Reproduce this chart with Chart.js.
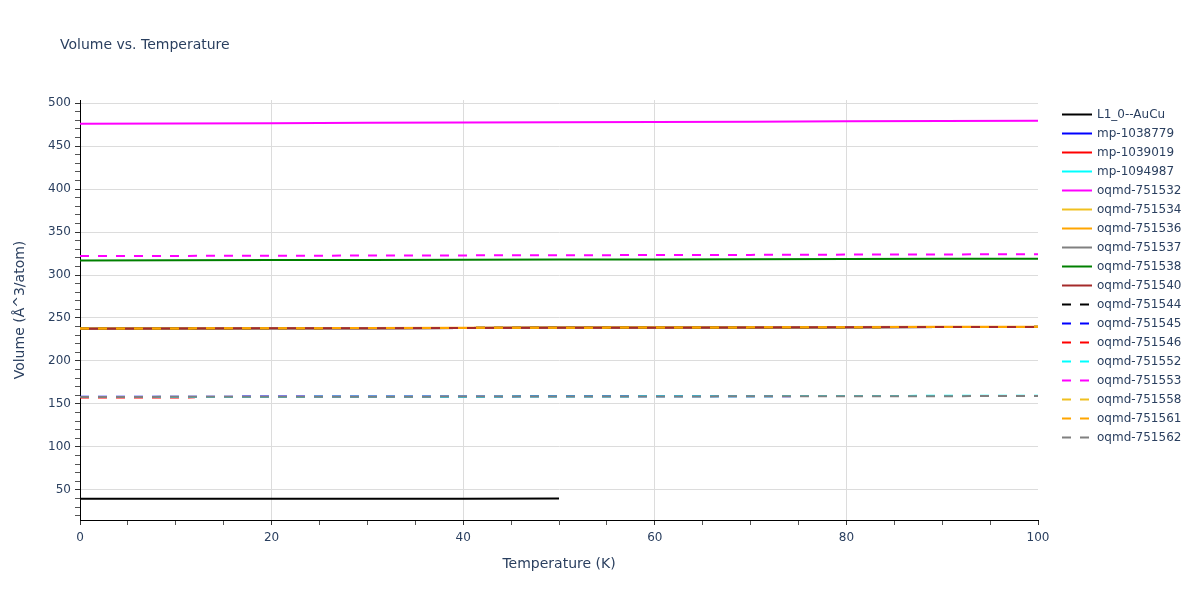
<!DOCTYPE html>
<html>
<head>
<meta charset="utf-8">
<script src="https://cdn.jsdelivr.net/npm/chart.js@4.4.1/dist/chart.umd.min.js"></script>
<style>
  html, body { margin: 0; padding: 0; background: #ffffff; }
  #wrap { width: 1200px; height: 600px; position: relative; }
</style>
</head>
<body>
<div id="wrap"><canvas id="c" width="1200" height="600"></canvas></div>
<script>
// ---- Data ----
const chartTitle = 'Volume vs. Temperature';
const xAxisTitle = 'Temperature (K)';
const yAxisTitle = 'Volume (Å^3/atom)';

const temps100 = [0, 10, 20, 30, 40, 50, 60, 70, 80, 90, 100];
const temps50 = [0, 10, 20, 30, 40, 50];
const temps12 = [0, 4, 8, 12];

const seriesNames = [
  'L1_0--AuCu', 'mp-1038779', 'mp-1039019', 'mp-1094987',
  'oqmd-751532', 'oqmd-751534', 'oqmd-751536', 'oqmd-751537',
  'oqmd-751538', 'oqmd-751540', 'oqmd-751544', 'oqmd-751545',
  'oqmd-751546', 'oqmd-751552', 'oqmd-751553', 'oqmd-751558',
  'oqmd-751561', 'oqmd-751562'
];
const seriesColors = [
  '#000000', '#0000ff', '#ff0000', '#00ffff',
  '#ff00ff', '#f0c020', '#ffa500', '#808080',
  '#008000', '#a52a2a', '#000000', '#0000ff',
  '#ff0000', '#00ffff', '#ff00ff', '#f0c020',
  '#ffa500', '#808080'
];
const seriesDashed = [
  false, false, false, false,
  false, false, false, false,
  false, false, true, true,
  true, true, true, true,
  true, true
];

const vL10AuCu  = [39.8, 39.8, 39.9, 39.9, 39.9, 40.0];
const vMp1038779 = [237.6, 237.8, 238.0, 238.2, 238.4, 238.6, 238.8, 239.0, 239.2, 239.4, 239.6];
const vMp1039019 = [237.6, 237.8, 238.0, 238.2, 238.4, 238.6, 238.8, 239.0, 239.2, 239.4, 239.6];
const vMp1094987 = [237.6, 237.8, 238.0, 238.2, 238.4, 238.6, 238.8, 239.0, 239.2, 239.4, 239.6];
const v751532 = [476.0, 476.3, 476.6, 476.9, 477.2, 477.6, 477.9, 478.3, 478.7, 479.1, 479.5];
const v751534 = [237.6, 237.8, 238.0, 238.2, 238.4, 238.6, 238.8, 239.0, 239.2, 239.4, 239.6];
const v751536 = [237.9, 238.1, 238.3, 238.5, 238.7, 238.9, 239.1, 239.3, 239.5, 239.7, 239.9];
const v751537 = [237.6, 237.8, 238.0, 238.2, 238.4, 238.6, 238.8, 239.0, 239.2, 239.4, 239.6];
const v751538 = [317.0, 317.1, 317.3, 317.5, 317.7, 317.9, 318.1, 318.3, 318.5, 318.8, 319.0];
const v751540 = [237.6, 237.8, 238.0, 238.2, 238.4, 238.6, 238.8, 239.0, 239.2, 239.4, 239.6];
const v751544 = [237.7, 237.9, 238.1, 238.3, 238.5, 238.7, 238.9, 239.1, 239.3, 239.5, 239.7];
const v751545 = [158.4, 158.5, 158.6, 158.7, 158.8, 158.9, 159.0, 159.1, 159.2, 159.3, 159.4];
const v751546 = [157.5, 157.6, 157.6, 157.7];
const v751552 = [158.0, 158.1, 158.2, 158.4, 158.5, 158.7, 158.9, 159.1, 159.3, 159.5, 159.7];
const v751553 = [322.0, 322.2, 322.4, 322.6, 322.8, 323.0, 323.2, 323.4, 323.7, 323.9, 324.2];
const v751558 = [237.7, 237.9, 238.1, 238.3, 238.5, 238.7, 238.9, 239.1, 239.3, 239.5, 239.7];
const v751561 = [237.7, 237.9, 238.1, 238.3, 238.5, 238.7, 238.9, 239.1, 239.3, 239.5, 239.7];
const v751562 = [158.2, 158.3, 158.4, 158.5, 158.6, 158.7, 158.8, 158.9, 159.0, 159.1, 159.3];

const seriesX = [
  temps50, temps100, temps100, temps100,
  temps100, temps100, temps100, temps100,
  temps100, temps100, temps100, temps100,
  temps12, temps100, temps100, temps100,
  temps100, temps100
];
const seriesY = [
  vL10AuCu, vMp1038779, vMp1039019, vMp1094987,
  v751532, v751534, v751536, v751537,
  v751538, v751540, v751544, v751545,
  v751546, v751552, v751553, v751558,
  v751561, v751562
];

const yTicksMajor = [50, 100, 150, 200, 250, 300, 350, 400, 450, 500];
const xTicksMajor = [0, 20, 40, 60, 80, 100];

// ---- Styling ----
const FONT = '"DejaVu Sans", Verdana, sans-serif';
const TXT = '#2a3f5f';
const GRID = '#dcdcdc';

const N = seriesNames.length;
const datasets = seriesNames.map((name, i) => ({
  label: name,
  data: seriesX[i].map((x, k) => ({ x: x, y: seriesY[i][k] })),
  borderColor: seriesColors[i],
  backgroundColor: seriesColors[i],
  borderWidth: 2,
  borderDash: seriesDashed[i] ? [9, 9] : [],
  pointRadius: 0,
  pointHoverRadius: 0,
  tension: 0,
  fill: false,
  order: N - i
}));

const overlay = {
  id: 'overlay',
  afterDraw(chart) {
    const ctx = chart.ctx;
    ctx.save();
    // title
    ctx.fillStyle = TXT;
    ctx.font = '14px ' + FONT;
    ctx.textBaseline = 'middle';
    ctx.textAlign = 'left';
    ctx.fillText(chartTitle, 60, 45);
    // legend
    ctx.font = '12px ' + FONT;
    for (let i = 0; i < N; i++) {
      const y = 114.5 + i * 19;
      ctx.beginPath();
      ctx.strokeStyle = seriesColors[i];
      ctx.lineWidth = 2;
      ctx.setLineDash(seriesDashed[i] ? [9, 9] : []);
      ctx.moveTo(1062, y);
      ctx.lineTo(seriesDashed[i] ? 1089 : 1092, y);
      ctx.stroke();
      ctx.setLineDash([]);
      ctx.fillStyle = TXT;
      ctx.fillText(seriesNames[i], 1097, y);
    }
    ctx.restore();
  }
};

new Chart(document.getElementById('c'), {
  type: 'line',
  data: { datasets: datasets },
  plugins: [overlay],
  options: {
    responsive: false,
    animation: false,
    devicePixelRatio: 1,
    layout: { padding: { top: 100, right: 162, bottom: 0, left: 0 } },
    plugins: {
      legend: { display: false },
      title: { display: false },
      tooltip: { enabled: false }
    },
    scales: {
      x: {
        type: 'linear',
        min: 0,
        max: 100,
        afterFit(scale) { scale.height = 80; },
        ticks: {
          stepSize: 5,
          includeBounds: false,
          autoSkip: false,
          maxRotation: 0,
          padding: 6,
          color: TXT,
          font: { family: FONT, size: 12 },
          callback: (v) => (xTicksMajor.includes(v) ? String(v) : '')
        },
        grid: {
          drawTicks: true,
          tickLength: 5,
          color: (c) => (c.tick && xTicksMajor.includes(c.tick.value) && c.tick.value !== 0 && c.tick.value !== 100 ? GRID : 'rgba(0,0,0,0)'),
          tickColor: (c) => (c.tick && xTicksMajor.includes(c.tick.value) ? '#333' : '#555')
        },
        border: { display: true, color: '#000', width: 1 },
        title: {
          display: true,
          text: xAxisTitle,
          color: TXT,
          font: { family: FONT, size: 14 },
          padding: { top: 0, bottom: 27 }
        }
      },
      y: {
        type: 'linear',
        min: 15.1,
        max: 503.5,
        afterFit(scale) { scale.width = 80; },
        ticks: {
          stepSize: 10,
          includeBounds: false,
          autoSkip: false,
          padding: 4,
          color: TXT,
          font: { family: FONT, size: 12 },
          callback: (v) => (yTicksMajor.includes(v) ? String(v) : '')
        },
        grid: {
          drawTicks: true,
          tickLength: 5,
          color: (c) => (c.tick && yTicksMajor.includes(c.tick.value) ? GRID : 'rgba(0,0,0,0)'),
          tickColor: (c) => (c.tick && yTicksMajor.includes(c.tick.value) ? '#333' : '#555')
        },
        border: { display: true, color: '#000', width: 1 },
        title: {
          display: true,
          text: yAxisTitle,
          color: TXT,
          font: { family: FONT, size: 14 },
          padding: { top: 12, bottom: 0 }
        }
      }
    }
  }
});
</script>
</body>
</html>
